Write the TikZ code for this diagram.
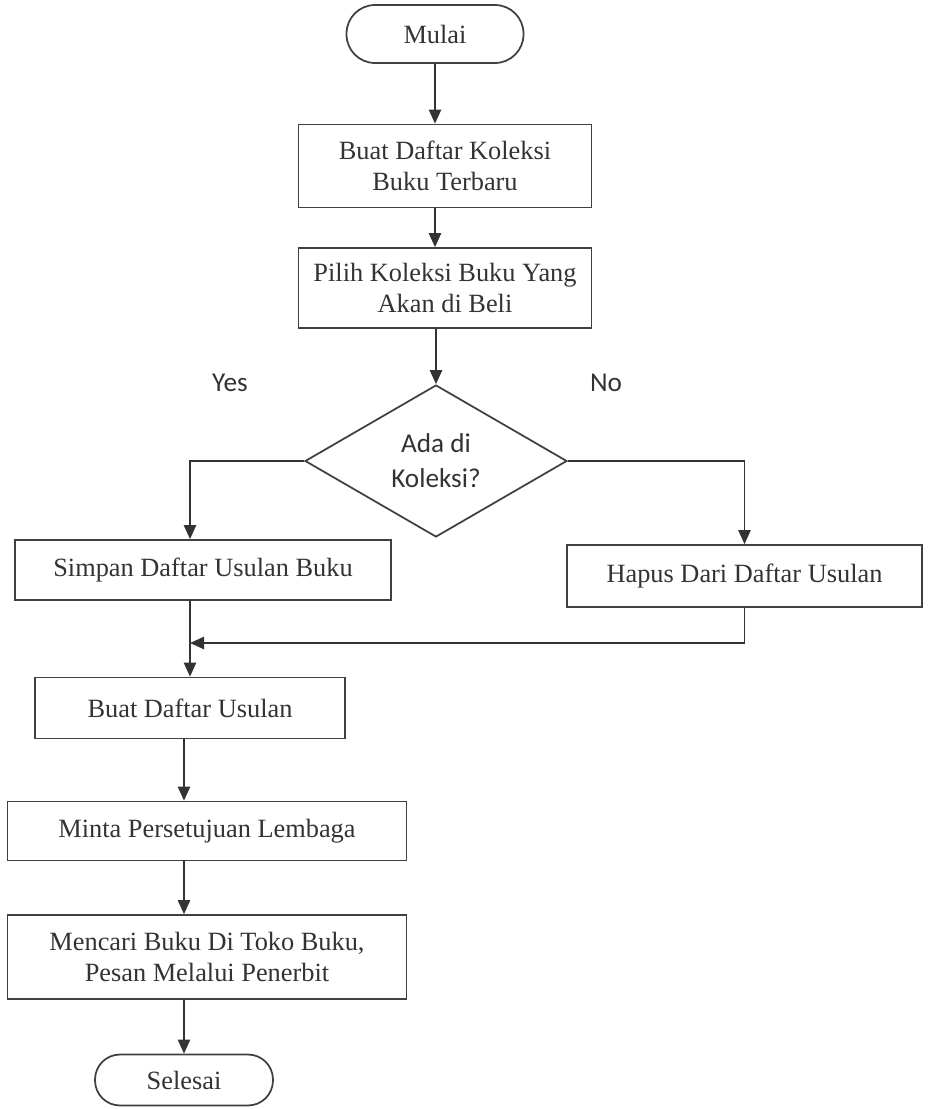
\documentclass[tikz,border=0pt]{standalone}
\usepackage{fontspec}
\setmainfont{Liberation Serif}
\newfontfamily\answerfont{Carlito}
\usepackage{tikz}
\usetikzlibrary{arrows.meta,shapes.geometric,calc}

\begin{document}
\begin{tikzpicture}[x=0.02cm, y=-0.02cm,
  every node/.style={font=\fontsize{15}{17.5}\selectfont, text=black!80},
  process/.style={draw=black!75, line width=1pt, minimum height=1.2cm, align=center, inner sep=2pt},
  terminal/.style={process},
  decision/.style={diamond, draw=black!75, line width=1pt, align=center, inner sep=0pt,
    font=\answerfont\fontsize{15.5}{20}\selectfont},
  answer/.style={font=\answerfont\fontsize{15.5}{18}\selectfont},
  link/.style={draw=black!80, line width=1pt},
  flow/.style={link, -{Triangle[length=8pt,width=7pt]}}
]
\useasboundingbox (0,0) rectangle (927,1109);
% ---- top: start and the two first steps ----
\node[terminal, minimum width=3.54cm, minimum height=1.16cm, rounded corners=0.57cm] (mulai) at (435,34) {Mulai};
\node[process, minimum width=5.86cm, minimum height=1.66cm] (koleksi) at (445,166) {Buat Daftar Koleksi\\Buku Terbaru};
\node[process, minimum width=5.86cm, minimum height=1.6cm] (pilih) at (445,288) {Pilih Koleksi Buku Yang\\Akan di Beli};
% ---- decision ----
\node[decision, minimum width=5.24cm, minimum height=3.04cm] (cek) at (436,461) {Ada di\\Koleksi?};
\node[answer] (yes) at (230,383) {Yes};
\node[answer] (no) at (606,383) {No};
\node[process, minimum width=7.52cm] (simpan) at (203,570) {Simpan Daftar Usulan Buku};
\node[process, minimum width=7.1cm, minimum height=1.24cm] (hapus) at (744.5,576) {Hapus Dari Daftar Usulan};
\coordinate (gabung) at (190,643);
% ---- bottom chain ----
\node[process, minimum width=6.2cm, minimum height=1.22cm] (usulan) at (190,708) {Buat Daftar Usulan};
\node[process, minimum width=7.98cm, minimum height=1.18cm] (minta) at (207,831) {Minta Persetujuan Lembaga};
\node[process, minimum width=7.98cm, minimum height=1.68cm] (cari) at (207,957) {Mencari Buku Di Toko Buku,\\Pesan Melalui Penerbit};
\node[terminal, minimum width=3.56cm, minimum height=1.02cm, rounded corners=0.5cm] (selesai) at (184,1080) {Selesai};

% ---- connectors ----
\draw[flow] (mulai) -- (mulai |- koleksi.north);
\draw[flow] (koleksi.south -| mulai) -- (pilih.north -| mulai);
\draw[flow] (pilih.south -| cek) -- (cek.north);
\draw[flow] (cek.west) -| (simpan.north -| gabung);
\draw[flow] (cek.east) -| (hapus.north);
\draw[link] (simpan.south -| gabung) -- (gabung);
\draw[flow] (hapus.south) |- (gabung);
\draw[flow] (gabung) -- (usulan.north -| gabung);
\draw[flow] (usulan.south -| selesai) -- (minta.north -| selesai);
\draw[flow] (minta.south -| selesai) -- (cari.north -| selesai);
\draw[flow] (cari.south -| selesai) -- (selesai.north);
\end{tikzpicture}
\end{document}
